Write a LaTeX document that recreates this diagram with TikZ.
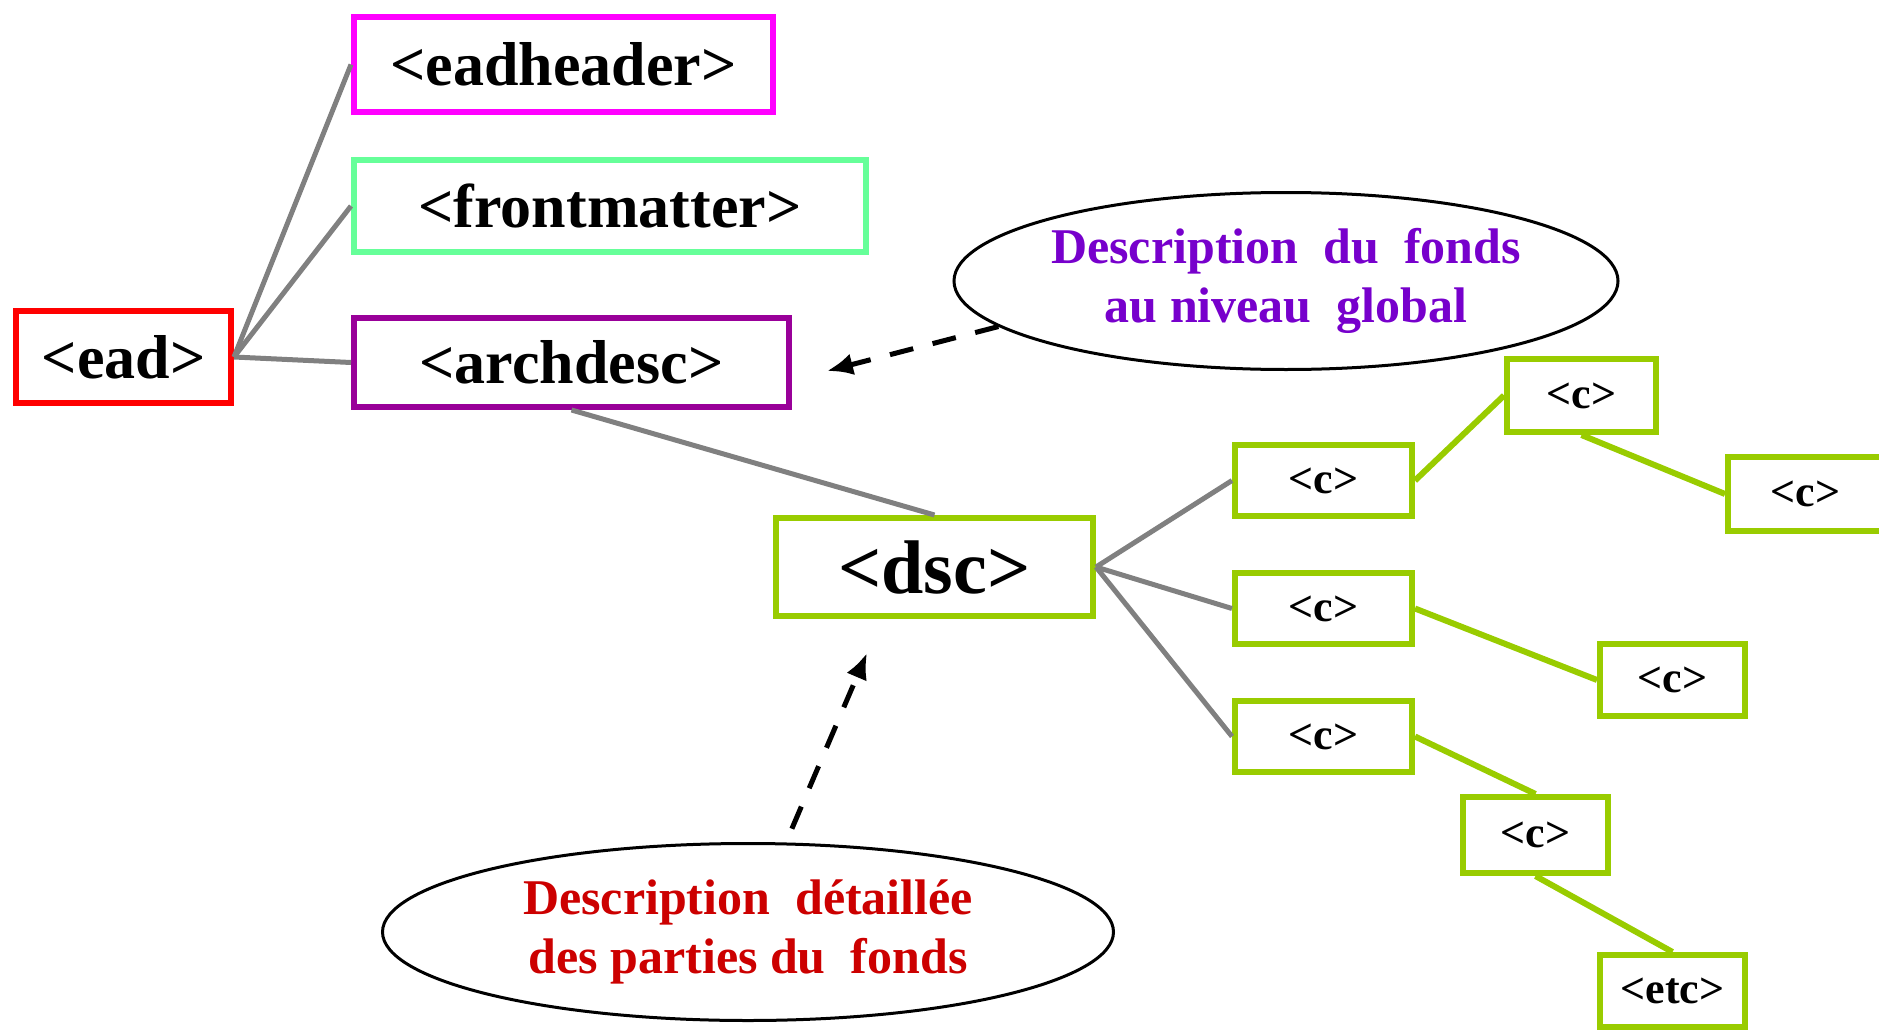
\documentclass[tikz,border=0pt]{standalone}
\usepackage{fontspec}
\setmainfont{Liberation Serif}
\usepackage{xcolor}
\usepackage{tikz}
\usetikzlibrary{shapes,arrows.meta}
\definecolor{eadred}{HTML}{FF0000}
\definecolor{headmagenta}{HTML}{FF00FF}
\definecolor{frontgreen}{HTML}{66FF99}
\definecolor{archpurple}{HTML}{990099}
\definecolor{cgreen}{HTML}{99CC00}
\definecolor{linegray}{HTML}{808080}
\definecolor{notepurple}{HTML}{7700CC}
\definecolor{notered}{HTML}{CC0000}

\begin{document}
\begin{tikzpicture}[x=1pt, y=-1pt,
            tag/.style = {draw, line width=6pt, inner sep=0pt,
                font=\bfseries\fontsize{62}{62}\selectfont},
            cbox/.style = {tag, draw=cgreen,
                minimum width=145pt, minimum height=72pt,
                font=\bfseries\fontsize{44}{44}\selectfont},
            note/.style = {ellipse, draw, line width=3pt, inner sep=0pt,
                align=center, font=\bfseries\fontsize{50}{59}\selectfont},
            link/.style = {draw=linegray, line width=5pt},
            sublink/.style = {draw=cgreen, line width=6pt},
            pointer/.style = {line width=5pt, dash pattern=on 24pt off 20pt,
                -{Latex[length=26pt,width=22pt]}}]

        \useasboundingbox (0,0) rectangle (1879,1030);

        % Root
        \node[tag, draw=eadred, minimum width=215pt, minimum height=92pt] (ead) at (123.5,357) {<ead>};

        % Children of ead
        \node[tag, draw=headmagenta, minimum width=419pt, minimum height=95pt] (eadheader) at (563.5,64.5) {<eadheader>};
        \node[tag, draw=frontgreen, minimum width=512pt, minimum height=92pt] (frontmatter) at (610,206) {<frontmatter>};
        \node[tag, draw=archpurple, minimum width=435pt, minimum height=89pt] (archdesc) at (571.5,362.5) {<archdesc>};

        % dsc
        \node[tag, draw=cgreen, minimum width=317pt, minimum height=98pt,
            font=\bfseries\fontsize{76}{76}\selectfont] (dsc) at (934.5,567) {<dsc>};

        % Components
        \node[cbox, minimum width=177pt, minimum height=71pt] (c1) at (1323.5,480.5) {<c>};
        \node[cbox, minimum width=177pt, minimum height=71pt] (c2) at (1323.5,608.5) {<c>};
        \node[cbox, minimum width=177pt, minimum height=71pt] (c3) at (1323.5,736.5) {<c>};
        \node[cbox, minimum width=149pt, minimum height=73pt] (ctop) at (1581.5,395.5) {<c>};
        \node[cbox, minimum width=155pt, minimum height=74pt] (cfar) at (1805.5,494) {<c>};
        \node[cbox] (cmid) at (1672.5,680) {<c>};
        \node[cbox, minimum height=76pt] (clow) at (1535.5,835) {<c>};
        \node[cbox] (etc) at (1672.5,991) {<etc>};

        % Notes
        \node[note, minimum width=650pt, minimum height=177pt, text=notepurple] (global) at (1286,281)
            {Description~~du~~fonds\\au niveau~~global};
        \node[note, minimum width=731pt, minimum height=177pt, text=notered] (detail) at (748,932)
            {Description~~détaillée\\des parties du~~fonds};

        \coordinate (tipglobal) at (827,371);
        \coordinate (tipdetail) at (867,653);

        % Tree lines
        \draw[link] (ead.east) -- (eadheader.west);
        \draw[link] (ead.east) -- (frontmatter.west);
        \draw[link] (ead.east) -- (archdesc.west);
        \draw[link] (archdesc.south) -- (dsc.north);
        \draw[link] (dsc.east) -- (c1.west);
        \draw[link] (dsc.east) -- (c2.west);
        \draw[link] (dsc.east) -- (c3.west);

        \draw[sublink] (c1.east) -- (ctop.west);
        \draw[sublink] (ctop.south) -- (cfar.west);
        \draw[sublink] (c2.east) -- (cmid.west);
        \draw[sublink] (c3.east) -- (clow.north);
        \draw[sublink] (clow.south) -- (etc.north);

        % Pointers
        \draw[pointer] (global.189) -- (tipglobal);
        \draw[pointer, shorten <=15pt] (detail.67) -- (tipdetail);

\end{tikzpicture}
\end{document}
